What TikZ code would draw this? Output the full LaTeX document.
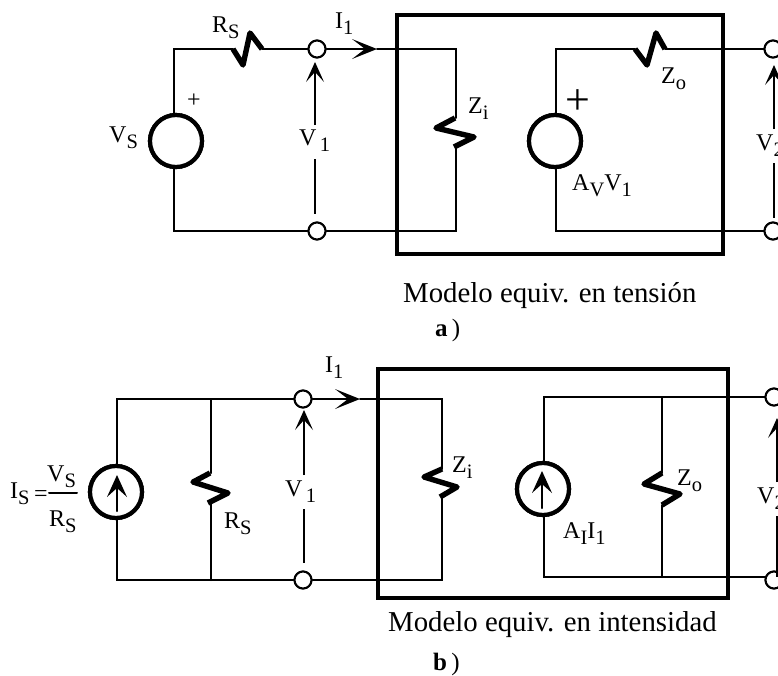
\documentclass[tikz,border=0pt]{standalone}
\usepackage{fontspec}
\setmainfont{Liberation Serif}
\newcommand{\subs}[1]{\raisebox{-0.27em}{\fontsize{20.5pt}{20.5pt}\selectfont #1}}
\newcommand{\rhead}[1]{\fill[shift={(#1)}] (0,0) -- (-25,-10) -- (-12,0) -- (-25,10) -- cycle;}
\newcommand{\uhead}[1]{\fill[shift={(#1)}] (0,0) -- (-9,20) -- (0,10) -- (9,20) -- cycle;}
\newcommand{\shead}[1]{\fill[shift={(#1)}] (0,0) -- (-10,22) -- (0,13) -- (10,22) -- cycle;}
\tikzset{
  x=1pt,y=-1pt,
  wire/.style={line width=2pt,line cap=round,line join=miter},
  thinw/.style={line width=1.3pt},
  boxm/.style={line width=4.8pt,line join=miter},
  zig/.style={line width=5.4pt,line join=round},
  src/.style={circle,draw,line width=4.2pt,fill=white,minimum size=52pt,inner sep=0pt},
  term/.style={circle,draw,line width=2pt,fill=white,minimum size=17pt,inner sep=0pt},
  lab/.style={anchor=base west,inner sep=0pt,font=\fontsize{24pt}{24pt}\selectfont},
  captiontext/.style={anchor=base west,inner sep=0pt,font=\fontsize{28.8pt}{28.8pt}\selectfont},
  letter/.style={anchor=base west,inner sep=0pt,font=\fontsize{25pt}{25pt}\selectfont},
  tipline/.style={shorten >=8pt}
}
\begin{document}
\begin{tikzpicture}
\useasboundingbox (0,0) rectangle (778,675);
\clip (0,0) rectangle (778,675);
% ---------- a) ----------
\coordinate (aTL) at (174,49); \coordinate (aBL) at (174,231);
\coordinate (aR1) at (233,49); \coordinate (aR2) at (262,49);
\coordinate (aTI) at (456,49); \coordinate (aBI) at (456,231);
\coordinate (aZ1) at (455,118); \coordinate (aZ2) at (454,147);
\coordinate (aTO) at (556,49); \coordinate (aBO) at (556,231);
\coordinate (aR3) at (635,49); \coordinate (aR4) at (665,49);
\coordinate (aTip) at (377,49);
\node[src] (aVs) at (176,141) {};
\node[src] (aVa) at (555,141) {};
\node[term] (aT1) at (317,49) {};
\node[term] (aT2) at (317,231) {};
\node[term] (aT3) at (773,49) {};
\node[term] (aT4) at (773,231) {};
\draw[wire] (aVs.north -| aTL) -- (aTL) -- (aR1);
\draw[wire] (aVs.south -| aBL) -- (aBL) -- (aT2);
\draw[wire] (aR2) -- (aT1);
\draw[wire,tipline] (aT1) -- (aTip);
\rhead{aTip}
\draw[wire] (aTip) -- (aTI) -- (aZ1 -| aTI);
\draw[wire] (aZ2 -| aBI) -- (aBI) -- (aT2);
\draw[wire] (aVa.north -| aTO) -- (aTO) -- (aR3);
\draw[wire] (aVa.south -| aBO) -- (aBO) -- (aT4);
\draw[wire] (aR4) -- (aT3);
\draw[zig] (aR1) -- (243,65) -- (250,33) -- (aR2);
\draw[zig] (aR3) -- (647,65) -- (656,33) -- (aR4);
\draw[zig] (aZ1) -- (436,128) -- (474,137) -- (aZ2);
\node[src] at (aVs) {};
\node[src] at (aVa) {};
\node[term] at (aT1) {};
\node[term] at (aT2) {};
\node[term] at (aT3) {};
\node[term] at (aT4) {};
\node[lab] (aLrs) at (212,32) {R\subs{S}};
\node[lab] (aLi) at (335,28) {I\subs{1}};
\node[lab] (aLvs) at (109,142) {V\subs{S}};
\node[font=\fontsize{24pt}{24pt}\selectfont,inner sep=0pt] (aLp) at (194,101) {+};
\node[font=\fontsize{44pt}{44pt}\selectfont,inner sep=0pt] (aLP) at (578,102) {+};
\node[lab] (aLv1) at (299,145) {V\subs{\,1}};
\node[lab] (aLzi) at (468,113) {Z\subs{i}};
\node[lab] (aLzo) at (661,83) {Z\subs{o}};
\node[lab] (aLa) at (572,190) {A\subs{V}V\subs{1}};
\node[lab] (aLv2) at (756,150) {V\subs{2}};
\node[captiontext] (aLm) at (403,302) {Modelo equiv. en tensión};
\node[letter] (aLc) at (435,336) {\textbf{a}\,)};
\coordinate (aV1a) at (315,125); \coordinate (aV1b) at (315,159); \coordinate (aV1c) at (315,214); \coordinate (aV1t) at (315,62);
\coordinate (aV2a) at (774,129); \coordinate (aV2b) at (774,163); \coordinate (aV2c) at (774,218); \coordinate (aV2t) at (774,65);
\draw[thinw,tipline] (aV1a) -- (aV1t);
\uhead{aV1t}
\draw[thinw] (aV1b) -- (aV1c);
\draw[thinw,tipline] (aV2a) -- (aV2t);
\uhead{aV2t}
\draw[thinw] (aV2b) -- (aV2c);
\draw[boxm] (397,15) rectangle (723,254);
% ---------- b) ----------
\coordinate (bTL) at (117,399); \coordinate (bBL) at (117,580);
\coordinate (bTR) at (211,399); \coordinate (bBR) at (211,580);
\coordinate (bR1) at (210,473); \coordinate (bR2) at (208,503);
\coordinate (bTI) at (442,399); \coordinate (bBI) at (442,580);
\coordinate (bZ1) at (442,469); \coordinate (bZ2) at (440,497);
\coordinate (bTO) at (544,397); \coordinate (bBO) at (544,577);
\coordinate (bTZ) at (662,397); \coordinate (bBZ) at (662,577);
\coordinate (bZ3) at (662,473); \coordinate (bZ4) at (662,505);
\coordinate (bTip) at (360,399);
\node[src] (bIs) at (116,492) {};
\node[src] (bIa) at (543,489) {};
\node[term] (bT1) at (303,399) {};
\node[term] (bT2) at (303,580) {};
\node[term] (bT3) at (774,397) {};
\node[term] (bT4) at (774,580) {};
\draw[wire] (bIs.north -| bTL) -- (bTL) -- (bT1);
\draw[wire] (bIs.south -| bBL) -- (bBL) -- (bT2);
\draw[wire] (bTR) -- (bR1 -| bTR);
\draw[wire] (bR2 -| bBR) -- (bBR);
\draw[wire,tipline] (bT1) -- (bTip);
\rhead{bTip}
\draw[wire] (bTip) -- (bTI) -- (bZ1);
\draw[wire] (bZ2 -| bBI) -- (bBI) -- (bT2);
\draw[wire] (bIa.north -| bTO) -- (bTO) -- (bT3);
\draw[wire] (bIa.south -| bBO) -- (bBO) -- (bBO -| bT4);
\draw[wire] (bTZ) -- (bZ3);
\draw[wire] (bZ4) -- (bBZ);
\draw[zig] (bR1) -- (193,482) -- (228,493) -- (bR2);
\draw[zig] (bZ1) -- (424,477) -- (457,487) -- (bZ2);
\draw[zig] (bZ3) -- (644,484) -- (680,494) -- (bZ4);
\node[src] at (bIs) {};
\node[src] at (bIa) {};
\node[term] at (bT1) {};
\node[term] at (bT2) {};
\node[term] at (bT3) {};
\node[term] at (bT4) {};
\coordinate (bA1) at (117,511); \coordinate (bA2) at (117,475);
\coordinate (bA3) at (542,508); \coordinate (bA4) at (542,471);
\draw[wire,tipline] (bA1) -- (bA2);
\shead{bA2}
\draw[wire,tipline] (bA3) -- (bA4);
\shead{bA4}
\node[lab] (bLi) at (325,372) {I\subs{1}};
\node[lab] (bLis) at (10,498) {I\subs{S}};
\node[lab] (bLeq) at (34,501) {=};
\node[lab] (bLvs) at (47,481) {V\subs{S}};
\node[lab] (bLrs) at (49,526) {R\subs{S}};
\coordinate (bF1) at (49,493); \coordinate (bF2) at (77,493);
\draw[wire] (bF1) -- (bF2);
\node[lab] (bLr) at (224,528) {R\subs{S}};
\node[lab] (bLv1) at (285,496) {V\subs{\,1}};
\node[lab] (bLzi) at (452,472) {Z\subs{i}};
\node[lab] (bLzo) at (677,485) {Z\subs{o}};
\node[lab] (bLa) at (563,538) {A\subs{I}I\subs{1}};
\node[lab] (bLv2) at (757,503) {V\subs{2}};
\node[captiontext] (bLm) at (388,631) {Modelo equiv. en intensidad};
\node[letter] (bLc) at (433,670) {\textbf{b}\,)};
\coordinate (bV1a) at (304,475); \coordinate (bV1b) at (304,509); \coordinate (bV1c) at (304,563); \coordinate (bV1t) at (304,410);
\coordinate (bV2a) at (777,482); \coordinate (bV2b) at (777,516); \coordinate (bV2c) at (777,577); \coordinate (bV2t) at (777,418);
\draw[thinw,tipline] (bV1a) -- (bV1t);
\uhead{bV1t}
\draw[thinw] (bV1b) -- (bV1c);
\draw[thinw,tipline] (bV2a) -- (bV2t);
\uhead{bV2t}
\draw[thinw] (bV2b) -- (bV2c);
\draw[boxm] (378,369) rectangle (728,598);
\end{tikzpicture}
\end{document}
